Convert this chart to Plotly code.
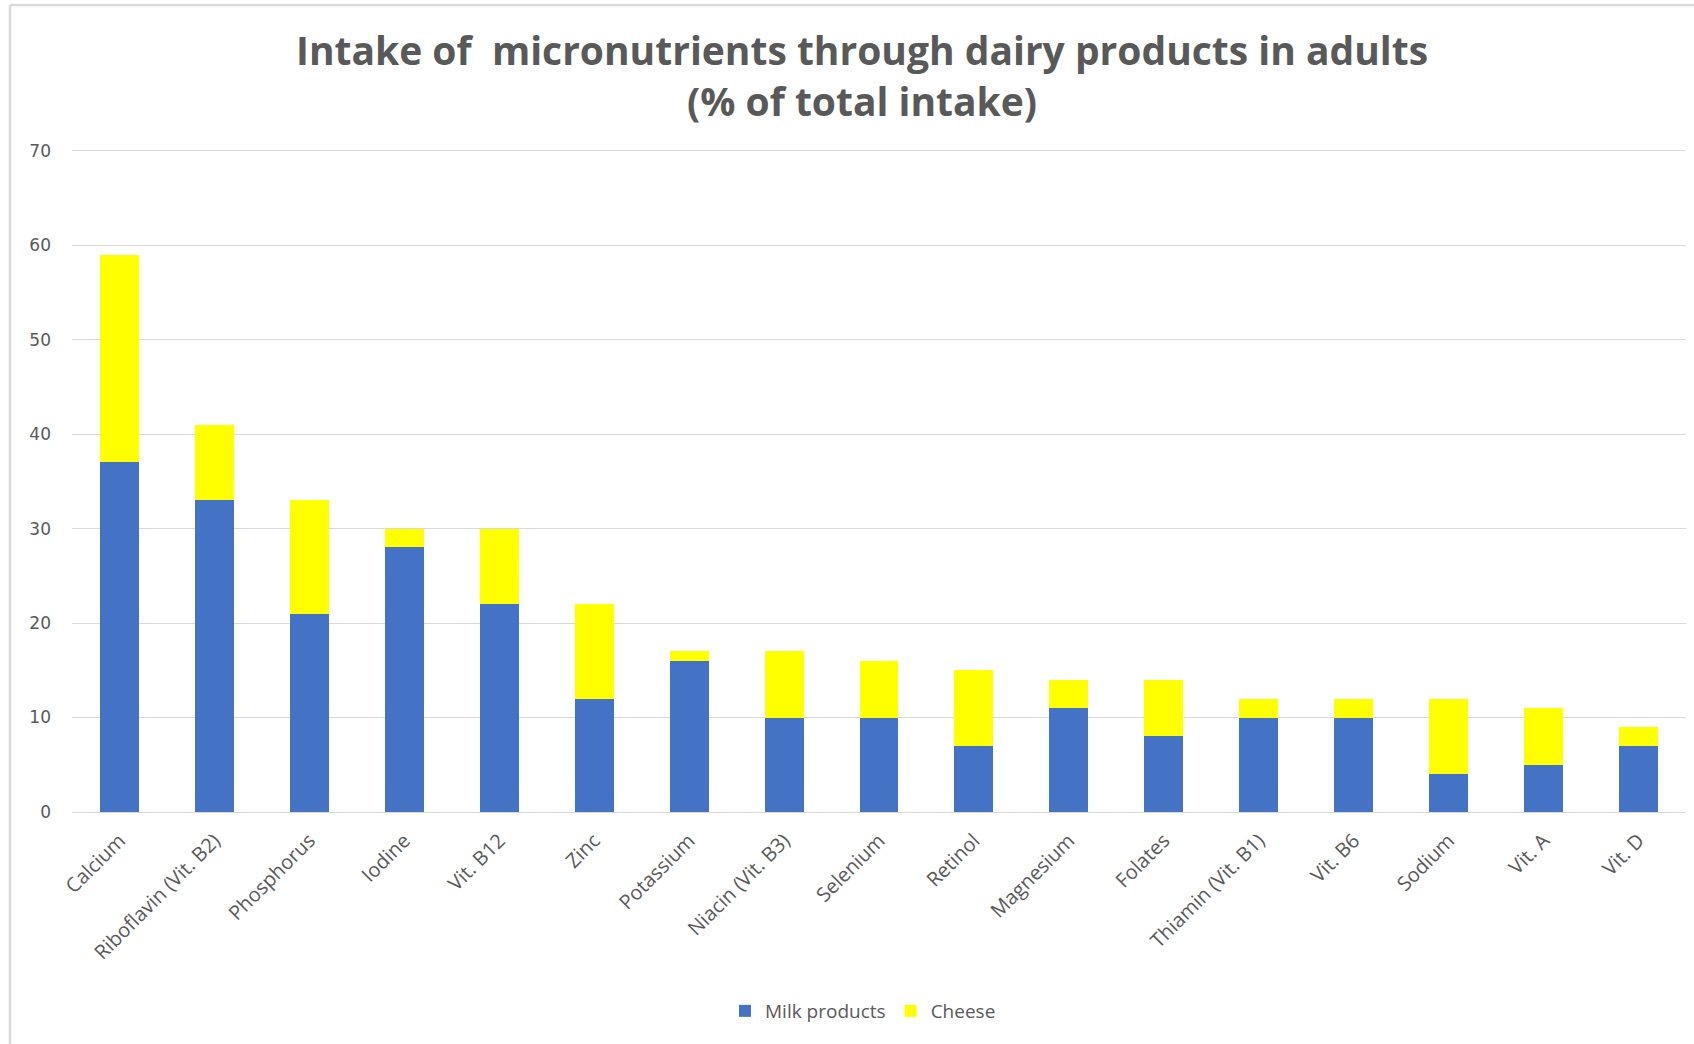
import plotly.graph_objects as go

categories = ["Calcium", "Riboflavin (Vit. B2)", "Phosphorus", "Iodine", "Vit. B12", "Zinc",
              "Potassium", "Niacin (Vit. B3)", "Selenium", "Retinol", "Magnesium", "Folates",
              "Thiamin (Vit. B1)", "Vit. B6", "Sodium", "Vit. A", "Vit. D"]
milk_products = [37, 33, 21, 28, 22, 12, 16, 10, 10, 7, 11, 8, 10, 10, 4, 5, 7]
cheese = [22, 8, 12, 2, 8, 10, 1, 7, 6, 8, 3, 6, 2, 2, 8, 6, 2]
y_ticks = [0, 10, 20, 30, 40, 50, 60, 70]

W, H = 1694, 1044
L, R, T, B = 72, 8, 146, 232

fig = go.Figure()
fig.add_trace(go.Bar(x=categories, y=milk_products, name="Milk products",
                     marker=dict(color="#4472C4", line=dict(width=0))))
fig.add_trace(go.Bar(x=categories, y=cheese, name="Cheese",
                     marker=dict(color="#FFFF00", line=dict(width=0))))

pw = W - L - R
ph = H - T - B

fig.update_layout(
    barmode="stack",
    bargap=0.59,
    width=W, height=H,
    margin=dict(l=L, r=R, t=T, b=B, autoexpand=False),
    paper_bgcolor="white",
    plot_bgcolor="white",
    title=dict(
        text="Intake of  micronutrients through dairy products in adults<br>(% of total intake)",
        x=862 / W, xanchor="center",
        y=1 - 65 / H, yanchor="middle", yref="container",
        font=dict(family="Open Sans", size=39, color="#595959", weight="bold"),
    ),
    font=dict(family="Open Sans", color="#595959"),
    xaxis=dict(
        tickangle=-45,
        tickfont=dict(family="Open Sans", size=20, color="#595959"),
        showgrid=False, showline=False, ticks="",
        ticklabelstandoff=12,
        fixedrange=True,
    ),
    yaxis=dict(
        range=[0, 70.5],
        tickvals=y_ticks,
        tickfont=dict(family="DejaVu Sans", size=17, color="#595959"),
        showgrid=True, gridcolor="#D9D9D9", gridwidth=1.3,
        zeroline=True, zerolinecolor="#D9D9D9", zerolinewidth=1.3,
        showline=False, ticks="",
        ticklabelstandoff=20,
    ),
    legend=dict(
        orientation="h",
        x=(863 - L) / pw, xanchor="center",
        y=-(1011 - (H - B)) / ph, yanchor="middle",
        font=dict(family="Open Sans", size=19, color="#595959"),
        traceorder="normal",
        itemwidth=30,
    ),
    showlegend=True,
)

# chart frame lines (top and left)
fig.add_shape(type="line", xref="paper", yref="paper",
              x0=(10 - L) / pw, x1=(W - L) / pw,
              y0=(H - B - 5) / ph, y1=(H - B - 5) / ph,
              line=dict(color="#D9D9D9", width=2.5))
fig.add_shape(type="line", xref="paper", yref="paper",
              x0=(10 - L) / pw, x1=(10 - L) / pw,
              y0=(H - B - 5) / ph, y1=-(B) / ph,
              line=dict(color="#D9D9D9", width=2.5))

fig.write_html("out.html")
